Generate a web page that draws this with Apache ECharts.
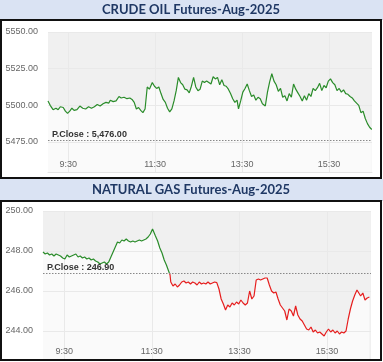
<!DOCTYPE html>
<html><head><meta charset="utf-8">
<script src="https://cdn.jsdelivr.net/npm/echarts@6/dist/echarts.min.js"></script>
<style>html,body{margin:0;padding:0;background:#fff}#c{width:383px;height:362px}</style>
</head><body><div id="c"></div>
<script>
const crudeTitle = 'CRUDE OIL Futures-Aug-2025';
const gasTitle = 'NATURAL GAS Futures-Aug-2025';
const crudePrevClose = 5476;
const gasPrevClose = 246.90;
const crudeYTicks = [5475, 5500, 5525, 5550];
const gasYTicks = [244, 246, 248, 250];
const timeTickMinutes = [30, 150, 270, 390];
const timeTickLabels = ['9:30', '11:30', '13:30', '15:30'];

// minutes after 9:00
const crudeMinutes = [2,5,9,13,16,19,23,26,29,32,35,38,42,46,50,54,58,62,66,70,74,78,82,86,88,92,96,100,103,107,111,115,118,121,124,127,130,133,136,139,142,146,149,152,155,158,161,164,167,170,173,176,179,182,185,188,191,194,197,200,203,206,209,212,215,218,221,224,227,230,233,236,239,242,245,248,251,254,257,260,263,265,268,271,274,277,280,283,286,289,292,295,298,302,305,308,311,314,317,320,323,326,329,332,335,338,341,344,347,350,353,356,359,362,365,368,371,374,377,380,383,386,389,392,395,398,401,404,407,410,413,416,419,422,425,428,431,434,437,440,443,446,449];
const crudeValues = [5503,5500,5497,5498,5497,5499,5498.5,5496,5494.5,5496,5498,5496.5,5497,5499.5,5498,5497.5,5499,5498,5499,5500.5,5499.5,5501,5502,5501.5,5503.5,5502.5,5503,5506,5505,5505.5,5504.5,5505,5504,5502,5497.5,5498.5,5496.5,5495,5497.5,5512.5,5511,5515.5,5513,5511.5,5512.5,5508,5504,5502,5498,5495.5,5497.5,5503,5510,5519,5515.5,5514,5511,5510.5,5508.5,5513,5519,5512.5,5510,5511,5516.5,5515.5,5516.5,5515.5,5514.5,5519.5,5518,5519,5514,5517.5,5513.5,5513,5511,5508,5504.5,5502,5503.5,5497.5,5503,5509,5511.5,5514.5,5510,5506,5507,5503.5,5505.5,5504.5,5501,5499.5,5509,5516,5521.5,5516.5,5514,5509.5,5511.5,5505.5,5506.5,5503,5508,5505.5,5514.5,5511,5508.5,5506,5503,5506.5,5503.5,5508,5506,5511.5,5510,5512,5515,5510,5513.5,5512,5516.5,5518,5515.5,5514,5510,5511.5,5509,5510.5,5508,5507.5,5506,5505,5503,5501.5,5500,5495,5496,5491,5487.5,5485,5483.5];

const gasMinutes = [1,4,7,10,13,16,19,22,25,28,31,34,37,40,43,46,49,52,55,58,61,64,67,70,73,76,79,82,85,88,91,94,97,100,103,106,109,112,115,118,121,124,127,130,133,136,139,142,145,148,151,153,155,158,161,164,167,170,173,175,176,179,182,185,188,191,194,197,200,203,206,209,212,215,218,221,224,227,230,233,236,239,242,245,248,251,254,257,260,263,266,269,272,275,278,281,284,287,290,293,296,299,302,305,308,311,314,317,320,323,326,329,332,335,338,341,344,347,350,353,356,359,362,365,368,371,374,377,380,383,386,389,392,395,398,401,404,407,410,413,416,419,422,425,428,431,433,436,439,442,445,448];
const gasValues = [247.95,247.85,247.9,247.8,247.85,247.75,247.85,247.8,247.75,247.65,247.6,247.8,247.7,247.75,247.8,247.85,247.7,247.75,247.65,247.7,247.6,247.65,247.55,247.6,247.5,247.45,247.35,247.4,247.45,247.35,247.45,247.7,247.95,248.2,248.45,248.4,248.55,248.5,248.6,248.5,248.45,248.5,248.45,248.5,248.55,248.5,248.55,248.6,248.7,248.85,249.1,249.0,248.75,248.5,248.15,247.9,247.55,247.3,247.0,246.8,246.45,246.25,246.35,246.2,246.3,246.45,246.5,246.4,246.45,246.35,246.45,246.4,246.3,246.45,246.35,246.4,246.35,246.45,246.35,246.4,246.45,246.42,246.1,245.6,245.35,245.05,245.3,245.2,245.4,245.3,245.45,245.35,245.55,245.4,245.3,245.4,246.0,245.6,245.75,246.55,246.6,246.55,246.6,246.65,246.65,246.3,246.0,245.9,245.95,245.6,245.3,245.15,245.0,244.55,245.1,245.0,244.75,245.25,244.8,244.6,244.5,244.3,244.1,244.05,244.2,243.95,244.05,243.9,243.95,243.85,243.75,243.95,244.1,243.95,244.05,243.9,244.0,243.85,243.95,243.9,244.0,244.6,245.1,245.5,245.8,246.05,246.15,245.75,245.9,245.55,245.65,245.7];

const GREEN = '#2a8c2a', RED = '#e61e1e';
const zip = (a, b) => a.map((v, i) => [v, b[i]]);
const fmtTime = v => { const i = timeTickMinutes.indexOf(v); return i >= 0 ? timeTickLabels[i] : ''; };
const FONT = 'Liberation Sans';
const gasYMin = 242.6, gasYMax = 250;

function xAxisCfg(gi, min, max) {
  return {
    type: 'value', gridIndex: gi, min: min, max: max, z: 2,
    axisLine: { show: true, lineStyle: { color: '#e4e4e4' } },
    axisTick: { show: false, customValues: timeTickMinutes },
    axisLabel: { inside: true, margin: 3, customValues: timeTickMinutes, formatter: fmtTime, color: '#666', fontSize: 9, fontFamily: FONT },
    splitLine: { show: true, lineStyle: { color: '#e9e9e9', width: 1 } }
  };
}
function yAxisCfg(gi, min, max, ticks) {
  return {
    type: 'value', gridIndex: gi, min: min, max: max, z: 2,
    axisLine: { show: false },
    axisTick: { show: false, customValues: ticks },
    axisLabel: { margin: 10, customValues: ticks, formatter: v => v.toFixed(2), color: '#666', fontSize: 9, fontFamily: FONT },
    splitLine: { show: true, lineStyle: { color: '#e9e9e9', width: 1 } }
  };
}
function markLineCfg(val, text) {
  return {
    silent: true, symbol: 'none',
    lineStyle: { color: '#888', type: [1.5, 1.5], width: 1 },
    label: { show: true, position: 'insideStartTop', distance: [4, 1], formatter: text, color: '#333', fontSize: 9, fontWeight: 'bold', fontFamily: FONT },
    data: [{ yAxis: val }]
  };
}
function areaSeries(xi, data) {
  return {
    type: 'line', xAxisIndex: xi, yAxisIndex: xi, data: data, z: 1, silent: true,
    showSymbol: false, lineStyle: { width: 0, color: '#fafafa' },
    areaStyle: { color: '#fafafa', opacity: 1, origin: 'start' }
  };
}

const crudeData = zip(crudeMinutes, crudeValues);
const gasData = zip(gasMinutes, gasValues);

const chart = echarts.init(document.getElementById('c'), null, { renderer: 'canvas' });
chart.setOption({
  animation: false,
  grid: [
    { left: 48, right: 11, top: 32, height: 140, show: true, backgroundColor: '#f0f0f0', borderWidth: 0 },
    { left: 43, right: 12, top: 211, height: 148, show: true, backgroundColor: '#f0f0f0', borderWidth: 0 }
  ],
  xAxis: [xAxisCfg(0, 2, 449.3), xAxisCfg(1, 1, 450.2)],
  yAxis: [yAxisCfg(0, 5454.5, 5550, crudeYTicks), yAxisCfg(1, gasYMin, gasYMax, gasYTicks)],
  visualMap: [{
    show: false, type: 'piecewise', seriesIndex: 3, dimension: 1,
    pieces: [{ min: gasPrevClose, max: gasYMax, color: GREEN }, { min: gasYMin, max: gasPrevClose, color: RED }]
  }],
  series: [
    areaSeries(0, crudeData),
    areaSeries(1, gasData),
    {
      type: 'line', xAxisIndex: 0, yAxisIndex: 0, data: crudeData, z: 3,
      showSymbol: false, lineStyle: { color: GREEN, width: 1.2 },
      markLine: markLineCfg(crudePrevClose, 'P.Close : 5,476.00')
    },
    {
      type: 'line', xAxisIndex: 1, yAxisIndex: 1, data: gasData, z: 3,
      showSymbol: false, lineStyle: { width: 1.2 },
      markLine: markLineCfg(gasPrevClose, 'P.Close : 246.90')
    }
  ],
  graphic: [
    { type: 'rect', shape: { x: 0, y: 0, width: 383, height: 19 }, style: { fill: '#dae3f3' }, z: 10 },
    { type: 'rect', shape: { x: 0, y: 19, width: 383, height: 1 }, style: { fill: '#c5cfe0' }, z: 10 },
    { type: 'text', x: 191, y: 10, style: { text: crudeTitle, fill: '#1f3864', font: 'bold 13px Lato', align: 'center', verticalAlign: 'middle' }, z: 11 },
    { type: 'rect', shape: { x: 1, y: 20, width: 380, height: 158 }, style: { fill: 'none', stroke: '#111', lineWidth: 2 }, z: 10 },
    { type: 'rect', shape: { x: 0, y: 179, width: 383, height: 21 }, style: { fill: '#dae3f3' }, z: 10 },
    { type: 'rect', shape: { x: 0, y: 200, width: 383, height: 1 }, style: { fill: '#c5cfe0' }, z: 10 },
    { type: 'text', x: 191, y: 190, style: { text: gasTitle, fill: '#1f3864', font: 'bold 13px Lato', align: 'center', verticalAlign: 'middle' }, z: 11 },
    { type: 'rect', shape: { x: 1, y: 201, width: 380, height: 159 }, style: { fill: 'none', stroke: '#111', lineWidth: 2 }, z: 10 }
  ]
});
</script></body></html>
